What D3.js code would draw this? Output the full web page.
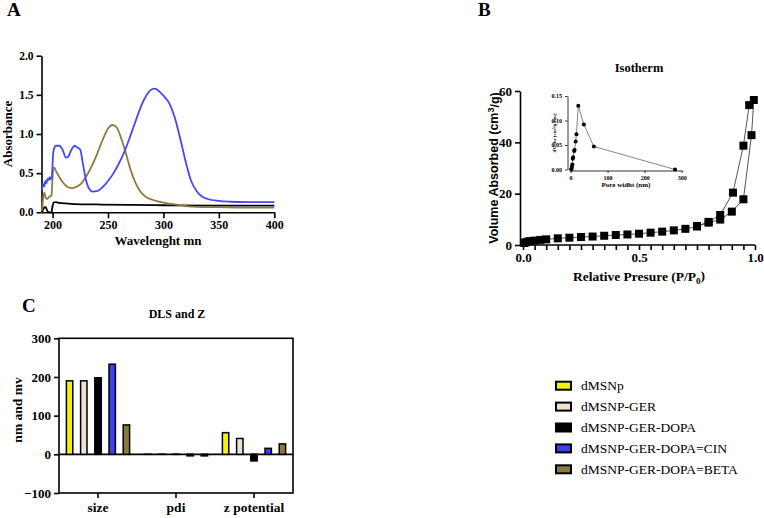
<!DOCTYPE html>
<html>
<head>
<meta charset="utf-8">
<script src="https://cdn.jsdelivr.net/npm/d3@7"></script>
<style>
  body { margin: 0; background: #fff; }
</style>
</head>
<body>
<svg id="mysvg" width="764" height="518"></svg>
<script>
// ---- Panel A: UV-vis spectra ----
const blueWl = [190.5, 191.5, 192.5, 193.5, 194.5, 195.5, 196.5, 197.5, 198.5, 199.5, 200.5, 201.5, 203, 206, 209, 212, 214, 217, 220, 222, 225, 227, 230, 233, 236, 240, 245, 250, 255, 260, 265, 270, 275, 280, 285, 290, 292, 295, 300, 305, 310, 315, 320, 325, 330, 335, 340, 350, 360, 375, 400];
const blueAbs = [0.28, 0.36, 0.33, 0.4, 0.37, 0.43, 0.41, 0.45, 0.42, 0.48, 0.75, 0.82, 0.85, 0.85, 0.8, 0.7, 0.71, 0.8, 0.85, 0.83, 0.8, 0.65, 0.42, 0.3, 0.265, 0.27, 0.32, 0.4, 0.5, 0.63, 0.78, 0.97, 1.17, 1.36, 1.5, 1.575, 1.58, 1.56, 1.49, 1.4, 1.22, 0.95, 0.65, 0.4, 0.27, 0.2, 0.17, 0.145, 0.135, 0.13, 0.13];

const oliveWl = [190.5, 191.5, 192.5, 193.5, 195, 197, 199, 199.8, 200.5, 201.5, 203, 206, 210, 214, 218, 222, 226, 230, 235, 240, 245, 250, 254, 258, 262, 266, 270, 275, 280, 285, 290, 295, 300, 310, 320, 330, 350, 375, 400];
const oliveAbs = [0.02, 0.18, 0.25, 0.2, 0.17, 0.2, 0.21, 0.4, 0.55, 0.57, 0.53, 0.45, 0.37, 0.32, 0.31, 0.33, 0.37, 0.45, 0.58, 0.74, 0.92, 1.07, 1.115, 1.08, 0.94, 0.76, 0.56, 0.37, 0.25, 0.19, 0.16, 0.14, 0.125, 0.1, 0.08, 0.07, 0.065, 0.06, 0.06];

const blackWl = [190.5, 192, 193, 194, 195.5, 197, 199, 200, 201, 203, 206, 210, 220, 240, 270, 300, 350, 400];
const blackAbs = [0.0, 0.05, 0.07, 0.06, 0.01, 0.0, 0.0, 0.08, 0.125, 0.13, 0.12, 0.115, 0.105, 0.1, 0.095, 0.09, 0.085, 0.085];

const absTicks = [0, 0.5, 1.0, 1.5, 2.0];
const wlTicks = [200, 250, 300, 350, 400];

// ---- Panel B: isotherm ----
const adsP = [0.005, 0.01, 0.02, 0.03, 0.05, 0.075, 0.1, 0.15, 0.2, 0.25, 0.3, 0.35, 0.4, 0.45, 0.5, 0.55, 0.6, 0.65, 0.7, 0.75, 0.8, 0.85, 0.9, 0.95, 0.985, 0.995];
const adsV = [0.8, 1.0, 1.3, 1.5, 1.7, 2.0, 2.2, 2.6, 2.85, 3.1, 3.3, 3.6, 3.9, 4.1, 4.4, 4.8, 5.2, 5.7, 6.3, 7.2, 8.7, 9.9, 13.0, 17.8, 42.8, 56.5];
const desP = [0.995, 0.975, 0.95, 0.905, 0.85, 0.8, 0.75];
const desV = [56.5, 54.5, 38.7, 20.4, 11.7, 9.0, 7.4];
const volTicks = [0, 20, 40, 60];
const presTicks = [0, 0.5, 1.0];

// inset: pore size distribution
const poreW = [2, 3, 4, 5, 6, 7, 10, 11, 14, 16, 21, 36, 63, 282];
const poreDv = [0, 0.002, 0.006, 0.01, 0.022, 0.025, 0.038, 0.04, 0.057, 0.072, 0.13, 0.092, 0.047, 0.0];
const dvTicks = [0, 0.05, 0.10, 0.15];
const poreTicks = [0, 100, 200, 300];

// ---- Panel C: DLS and Z ----
const dlsCats = ["size", "pdi", "z potential"];
const samples = ["dMSNp", "dMSNP-GER", "dMSNP-GER-DOPA", "dMSNP-GER-DOPA=CIN", "dMSNP-GER-DOPA=BETA"];
const sampleColors = ["#f7f000", "#ebe3cf", "#000000", "#3f3ff0", "#8a7a3c"];
const sizeVals = [190, 190, 198, 233, 76];
const pdiVals = [0.3, 0.3, 0.3, -4, -4];
const zetaVals = [56, 41, -17, 15.5, 27];
const dlsTicks = [-100, 0, 100, 200, 300];

const SERIF = "'Liberation Serif', 'Times New Roman', Times, serif";
const SANS = "'Liberation Sans', Arial, Helvetica, sans-serif";

const svg = d3.select("#mysvg").attr("font-family", SERIF);

// helper for bold serif labels
function label(g, txt, x, y, size, opts = {}) {
  const t = g.append("text")
    .attr("x", x).attr("y", y)
    .style("font-family", opts.family || SERIF)
    .style("font-weight", opts.weight || "bold")
    .style("font-size", size + "px")
    .attr("text-anchor", opts.anchor || "start");
  if (opts.rotate) t.attr("x", null).attr("y", null).attr("transform", `translate(${x},${y}) rotate(-90)`);
  if (txt !== null) t.text(txt);
  return t;
}
function styleTicks(sel, size) {
  sel.attr("font-family", null)
    .selectAll("text")
    .style("font-family", SERIF)
    .style("font-weight", "bold")
    .style("font-size", size + "px");
}

// ================= Panel A =================
const gA = svg.append("g");
const xA = d3.scaleLinear().domain([190, 400]).range([41.5, 274.3]);
const yA = d3.scaleLinear().domain([0, 2]).range([212.3, 55.7]);

gA.append("g")
  .attr("transform", `translate(0,${yA(0)})`)
  .call(d3.axisBottom(xA).tickValues(wlTicks).tickSize(6).tickPadding(2).tickSizeOuter(0).tickFormat(d3.format("d")))
  .call(g => g.selectAll("path,line").attr("stroke-width", 1.6))
  .call(g => styleTicks(g, 12));

gA.append("g")
  .attr("transform", `translate(${xA(190)},0)`)
  .call(d3.axisLeft(yA).tickValues(absTicks).tickSize(5).tickSizeOuter(0).tickFormat(d3.format(".1f")))
  .call(g => g.selectAll("path,line").attr("stroke-width", 1.6))
  .call(g => styleTicks(g, 11.5));

const lineA = d3.line().curve(d3.curveMonotoneX).x(d => xA(d[0])).y(d => yA(d[1]));
const spectra = [
  { wl: blackWl, v: blackAbs, color: "#000" },
  { wl: oliveWl, v: oliveAbs, color: "#8c7b3e" },
  { wl: blueWl, v: blueAbs, color: "#4646ff" },
];
gA.selectAll(".spec")
  .data(spectra)
  .join("path")
  .attr("class", "spec")
  .attr("fill", "none")
  .attr("stroke", d => d.color)
  .attr("stroke-width", 1.8)
  .attr("d", d => lineA(d.wl.map((w, i) => [w, d.v[i]])));

label(gA, "A", 7, 16, 19);
label(gA, "Absorbance", 12, 134, 13, { anchor: "middle", rotate: true });
label(gA, "Wavelenght mn", 158, 245, 13, { anchor: "middle" });

// ================= Panel B =================
const gB = svg.append("g");
const xB = d3.scaleLinear().domain([0, 1]).range([523, 755]);
const yB = d3.scaleLinear().domain([0, 60]).range([245, 91]);

gB.append("g")
  .attr("transform", `translate(0,${yB(0)})`)
  .call(d3.axisBottom(xB).tickValues(d3.range(0, 1.0001, 0.05)).tickSize(5).tickSizeOuter(0).tickFormat(d => presTicks.some(t => Math.abs(t - d) < 1e-6) ? d3.format(".1f")(d) : ""))
  .call(g => g.select("path").attr("d", `M520,0H${xB(1)}`))
  .call(g => g.selectAll("path,line").attr("stroke-width", 1.6))
  .call(g => styleTicks(g, 13));

gB.append("g")
  .attr("transform", `translate(520,0)`)
  .call(d3.axisLeft(yB).tickValues(volTicks).tickSize(5).tickSizeOuter(0))
  .call(g => g.selectAll("path,line").attr("stroke-width", 1.6))
  .call(g => styleTicks(g, 13));

const lineB = d3.line().x(d => xB(d[0])).y(d => yB(d[1]));
const ads = adsP.map((p, i) => [p, adsV[i]]);
const des = desP.map((p, i) => [p, desV[i]]);
gB.selectAll(".iso")
  .data([ads, des])
  .join("path")
  .attr("class", "iso")
  .attr("fill", "none")
  .attr("stroke", "#555")
  .attr("stroke-width", 1)
  .attr("d", lineB);
gB.selectAll(".sq")
  .data(ads.concat(des.slice(1)))
  .join("rect")
  .attr("class", "sq")
  .attr("x", d => xB(d[0]) - 4)
  .attr("y", d => yB(d[1]) - 4)
  .attr("width", 8)
  .attr("height", 8)
  .attr("fill", "#000");

label(gB, "B", 478, 16, 19);
label(gB, "Isotherm", 639, 72, 12.5, { anchor: "middle" });
const yLabB = label(gB, null, 498, 168, 12.5, { anchor: "middle", family: SANS, rotate: true });
yLabB.append("tspan").text("Volume Absorbed (cm");
yLabB.append("tspan").attr("dy", "-0.4em").style("font-size", "9px").text("3");
yLabB.append("tspan").attr("dy", "0.4em").text("/g)");

const xLabB = label(gB, null, 639, 281, 13.5, { anchor: "middle" });
xLabB.append("tspan").text("Relative Presure (P/P");
xLabB.append("tspan").attr("dy", "0.3em").style("font-size", "9px").text("0");
xLabB.append("tspan").attr("dy", "-0.3em").text(")");

// inset
const xI = d3.scaleLinear().domain([0, 300]).range([570.5, 681.7]);
const yI = d3.scaleLinear().domain([0, 0.15]).range([169.5, 96]);
gB.append("g")
  .attr("transform", `translate(0,${yI(0) + 1})`)
  .call(d3.axisBottom(xI).tickValues(poreTicks).tickSize(2.5).tickSizeOuter(0))
  .call(g => g.selectAll("path,line").attr("stroke-width", 0.8))
  .call(g => styleTicks(g, 6));
gB.append("g")
  .attr("transform", `translate(567.5,0)`)
  .call(d3.axisLeft(yI).tickValues(dvTicks).tickSize(2.5).tickSizeOuter(0).tickFormat(d3.format(".2f")))
  .call(g => g.selectAll("path,line").attr("stroke-width", 0.8))
  .call(g => styleTicks(g, 6));
const pore = poreW.map((w, i) => [w, poreDv[i]]);
gB.append("path")
  .datum(pore)
  .attr("fill", "none")
  .attr("stroke", "#666")
  .attr("stroke-width", 0.8)
  .attr("d", d3.line().x(d => xI(d[0])).y(d => yI(d[1])));
gB.selectAll(".pdot")
  .data(pore)
  .join("circle")
  .attr("class", "pdot")
  .attr("cx", d => xI(d[0]))
  .attr("cy", d => yI(d[1]))
  .attr("r", 2)
  .attr("fill", "#000");
label(gB, "Pore widht (nm)", 626, 187, 7, { anchor: "middle" });
label(gB, "dV/dw (cm³/g·nm)", 556, 133, 5, { anchor: "middle", rotate: true });

// ================= Panel C =================
const gC = svg.append("g");
const xC = d3.scaleBand().domain(dlsCats).range([59, 293]).padding(0);
const xSub = d3.scaleBand().domain(samples).range([0, xC.bandwidth()]).paddingInner(0.55).paddingOuter(0.52);
const yC = d3.scaleLinear().domain([-100, 300]).range([493, 338.3]);

// frame
gC.append("rect")
  .attr("x", 59).attr("y", yC(300))
  .attr("width", 293 - 59).attr("height", yC(-100) - yC(300))
  .attr("fill", "none").attr("stroke", "#000").attr("stroke-width", 1.6);
gC.append("line")
  .attr("x1", 59).attr("x2", 293).attr("y1", yC(0)).attr("y2", yC(0))
  .attr("stroke", "#000").attr("stroke-width", 1.6);

gC.append("g")
  .attr("transform", `translate(59,0)`)
  .call(d3.axisLeft(yC).tickValues(dlsTicks).tickSize(5).tickSizeOuter(0))
  .call(g => g.select("path").remove())
  .call(g => g.selectAll("line").attr("stroke-width", 1.6))
  .call(g => styleTicks(g, 13));

gC.append("g")
  .attr("transform", `translate(0,${yC(-100)})`)
  .call(d3.axisBottom(xC).tickSize(5).tickSizeOuter(0))
  .call(g => g.select("path").remove())
  .call(g => g.selectAll("line").attr("stroke-width", 1.6))
  .call(g => styleTicks(g, 13.5))
  .call(g => g.selectAll("text").attr("dy", "0.85em"));

const dlsRows = [sizeVals, pdiVals, zetaVals];
const bars = [];
dlsCats.forEach((c, ci) => {
  samples.forEach((s, si) => bars.push({ cat: c, s, v: dlsRows[ci][si], color: sampleColors[si] }));
});
gC.selectAll(".bar")
  .data(bars)
  .join("rect")
  .attr("class", "bar")
  .attr("x", d => xC(d.cat) + xSub(d.s))
  .attr("width", xSub.bandwidth())
  .attr("y", d => yC(Math.max(0, d.v)))
  .attr("height", d => Math.abs(yC(d.v) - yC(0)))
  .attr("fill", d => d.color)
  .attr("stroke", "#000")
  .attr("stroke-width", 1.5);

label(gC, "C", 22, 312, 19);
label(gC, "DLS and Z", 177, 318, 12, { anchor: "middle" });
label(gC, "nm and mv", 22, 410, 13.5, { anchor: "middle", rotate: true });

// legend
const legend = gC.selectAll(".legend")
  .data(samples)
  .join("g")
  .attr("class", "legend")
  .attr("transform", (d, i) => `translate(556, ${385.7 + i * 20.9})`);
legend.append("rect")
  .attr("x", 0).attr("y", -4)
  .attr("width", 15).attr("height", 8)
  .attr("fill", (d, i) => sampleColors[i])
  .attr("stroke", "#000").attr("stroke-width", 2);
legend.append("text")
  .attr("x", 25).attr("y", 0).attr("dy", "0.35em")
  .style("font-family", SERIF)
  .style("font-size", "13.5px")
  .text(d => d);
</script>
</body>
</html>
